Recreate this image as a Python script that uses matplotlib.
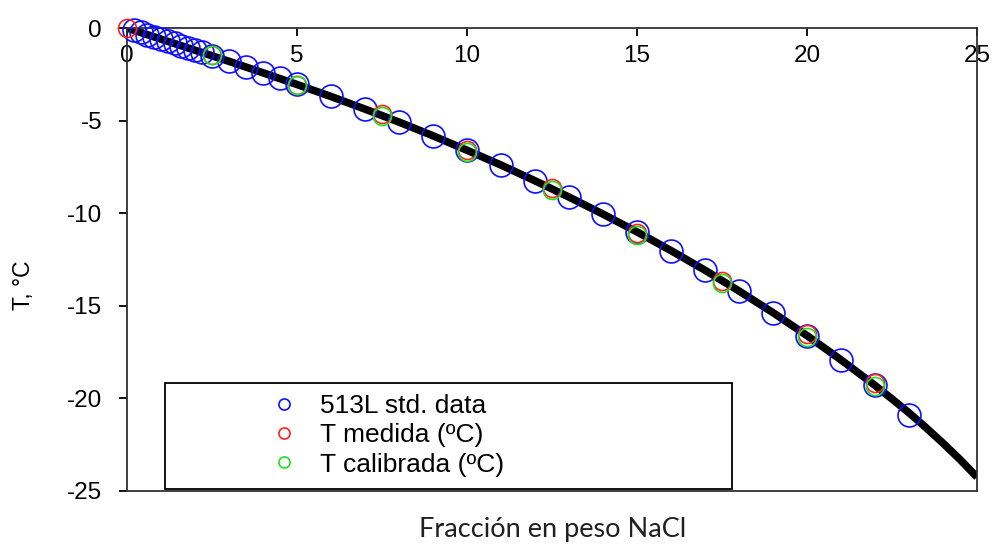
import matplotlib
matplotlib.use("Agg")
import matplotlib.pyplot as plt
from matplotlib.lines import Line2D
from matplotlib.patches import Rectangle

plt.rcParams['axes.unicode_minus'] = False
plt.rcParams['font.family'] = ['Liberation Sans', 'DejaVu Sans']

# 513L standard data (wt% NaCl, freezing T in C)
std_x = [0.2, 0.4, 0.6, 0.8, 1.0, 1.2, 1.4, 1.6, 1.8, 2.0, 2.2,
         2.5, 3.0, 3.5, 4.0, 4.5, 5.0, 6.0, 7.0, 8.0, 9.0, 10.0,
         11.0, 12.0, 13.0, 14.0, 15.0, 16.0, 17.0, 18.0, 19.0, 20.0,
         21.0, 22.0, 23.0]
std_y = [-0.12, -0.24, -0.36, -0.48, -0.59, -0.71, -0.83, -0.95, -1.07, -1.19, -1.31,
         -1.49, -1.79, -2.09, -2.41, -2.72, -3.04, -3.69, -4.37, -5.08, -5.82, -6.60,
         -7.40, -8.25, -9.13, -10.05, -11.01, -12.02, -13.08, -14.20, -15.37, -16.61,
         -17.92, -19.30, -20.90]

# T medida
med_x = [0.0, 2.5, 5.0, 7.5, 10.0, 12.5, 15.0, 17.5, 20.0, 22.0]
med_y = [0.0, -1.46, -3.06, -4.64, -6.60, -8.65, -11.05, -13.65, -16.55, -19.15]

# T calibrada
cal_x = [2.5, 5.0, 7.5, 10.0, 12.5, 15.0, 17.5, 20.0, 22.0]
cal_y = [-1.46, -3.08, -4.75, -6.70, -8.75, -11.20, -13.77, -16.70, -19.33]

# fitted curve
fit_x = [0, 1, 2, 3, 4, 5, 6, 7, 8, 9, 10, 11, 12, 13, 14, 15, 16, 17, 18,
         19, 20, 21, 22, 22.5, 23, 23.5, 24, 24.5, 25]
fit_y = [0.0, -0.60, -1.20, -1.80, -2.42, -3.05, -3.70, -4.38, -5.08, -5.82,
         -6.60, -7.40, -8.25, -9.13, -10.05, -11.01, -12.02, -13.08, -14.20,
         -15.37, -16.61, -17.92, -19.30, -20.03, -20.78, -21.58, -22.42, -23.30, -24.25]

xticks = [0, 5, 10, 15, 20, 25]
yticks = [0, -5, -10, -15, -20, -25]

fig = plt.figure(figsize=(9.93, 5.47), dpi=100)
ax = fig.add_axes([0.1279, 0.1024, 0.8560, 0.8464])

ax.plot(fit_x, fit_y, color='black', lw=5.5, zorder=2, solid_capstyle='butt',
        solid_joinstyle='round')
ax.plot(std_x, std_y, ls='none', marker='o', ms=16.5, mfc='none', mec='#1010ff', mew=1.2,
        zorder=3, clip_on=False)
ax.plot(med_x, med_y, ls='none', marker='o', ms=13, mfc='none', mec='#ff2020', mew=1.2,
        zorder=4, clip_on=False)
ax.plot(cal_x, cal_y, ls='none', marker='o', ms=13, mfc='none', mec='#20e020', mew=1.2,
        zorder=5, clip_on=False)

ax.set_xlim(0, 25)
ax.set_ylim(-25, 0)
ax.set_xticks(xticks)
ax.set_xticklabels([str(v) for v in xticks])
ax.set_yticks(yticks)
ax.set_yticklabels([str(v) for v in yticks])

for s in ax.spines.values():
    s.set_linewidth(1.3)
    s.set_color('#303030')

ax.tick_params(axis='x', top=True, bottom=False, labeltop=True, labelbottom=False,
               direction='in', length=6, width=1.3, pad=-28, labelsize=17.5)
ax.tick_params(axis='y', direction='out', length=6, width=1.3, pad=12, labelsize=17.5)

ax.set_ylabel('T, °C', fontsize=16.5)
ax.yaxis.set_label_coords(-0.108, 0.445)
fig.text(0.557, 0.032, 'Fracción en peso NaCl', fontsize=19.5, family='Lato',
         ha='center', va='center', color='#202020')

rect = Rectangle((0.0447, 0.004), 0.667, 0.229, transform=ax.transAxes,
                 fill=False, edgecolor='black', lw=1.3, zorder=6)
ax.add_patch(rect)

handles = [Line2D([], [], ls='none', marker='o', ms=8, mfc='none', mec='#1010ff', mew=1.2),
           Line2D([], [], ls='none', marker='o', ms=8, mfc='none', mec='#ff2020', mew=1.2),
           Line2D([], [], ls='none', marker='o', ms=8, mfc='none', mec='#20e020', mew=1.2)]
labels = ['513L std. data', 'T medida (ºC)', 'T calibrada (ºC)']
leg = ax.legend(handles, labels, loc='upper left', bbox_to_anchor=(0.169, 0.2095),
                frameon=False, fontsize=19, handlelength=1.0, handletextpad=0.86,
                borderpad=0, borderaxespad=0, labelspacing=0.2)
leg.set_zorder(7)

fig.savefig('out.png', dpi=100)
